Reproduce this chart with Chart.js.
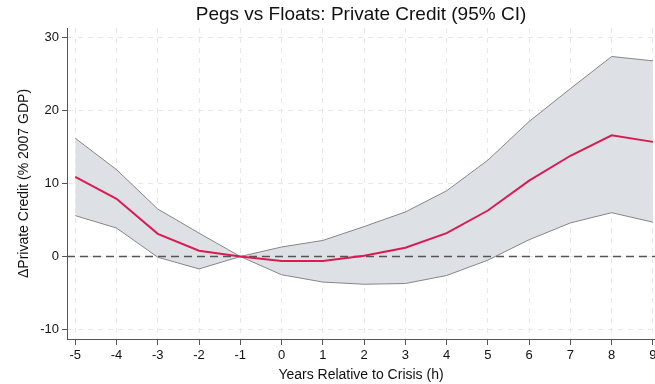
<!DOCTYPE html>
<html>
<head>
<meta charset="utf-8">
<script src="https://cdn.jsdelivr.net/npm/chart.js@4"></script>
<style>
  html, body { margin: 0; padding: 0; background: #fff; }
  #wrap { width: 655px; height: 384px; }
</style>
</head>
<body>
<div id="wrap"><canvas id="myChart" width="655" height="384"></canvas></div>
<script>
// horizon (years relative to crisis)
const years = [-5, -4, -3, -2, -1, 0, 1, 2, 3, 4, 5, 6, 7, 8, 9];
// point estimate and 95% CI bounds
const estimate = [10.9, 7.9, 3.1, 0.8, 0, -0.6, -0.6, 0.1, 1.2, 3.2, 6.3, 10.4, 13.8, 16.6, 15.7];
const upper = [16.2, 11.9, 6.5, 3.2, 0, 1.3, 2.2, 4.1, 6.1, 9.0, 13.2, 18.5, 23.0, 27.4, 26.8];
const lower = [5.6, 3.9, -0.1, -1.7, 0, -2.5, -3.5, -3.8, -3.7, -2.6, -0.5, 2.3, 4.6, 6.0, 4.7];

const xTicks = years;
const yTicks = [-10, 0, 10, 20, 30];

const titleText = "Pegs vs Floats: Private Credit (95% CI)";
const xTitle = "Years Relative to Crisis (h)";
const yTitle = "\u0394Private Credit (% 2007 GDP)";

const toPoints = (vals) => years.map((x, i) => ({ x: x, y: vals[i] }));

const fontFamily = "'Liberation Sans', Arial, Helvetica, sans-serif";

// zero reference line + title drawn on the canvas
const extras = {
    id: "extras",
    beforeDatasetsDraw(chart) {
        const { ctx, chartArea, scales } = chart;
        const y0 = scales.y.getPixelForValue(0);
        ctx.save();
        ctx.strokeStyle = "#555555";
        ctx.lineWidth = 1.5;
        ctx.setLineDash([8, 5]);
        ctx.beginPath();
        ctx.moveTo(chartArea.left, y0);
        ctx.lineTo(chartArea.right, y0);
        ctx.stroke();
        ctx.restore();
    },
    afterDraw(chart) {
        const { ctx, chartArea } = chart;
        ctx.save();
        ctx.fillStyle = "#111";
        ctx.font = "19px " + fontFamily;
        ctx.textAlign = "center";
        ctx.textBaseline = "middle";
        ctx.fillText(titleText, (chartArea.left + chartArea.right) / 2, 15);
        ctx.restore();
    },
};

const ctx = document.getElementById("myChart");

const chart = new Chart(ctx, {
    type: "line",
    data: {
        datasets: [
            {
                label: "Estimate",
                data: toPoints(estimate),
                borderColor: "#d81b50",
                borderWidth: 2,
                pointRadius: 0,
                fill: false,
            },
            {
                label: "Upper",
                data: toPoints(upper),
                borderColor: "#858585",
                borderWidth: 1,
                backgroundColor: "#dde1e6",
                pointRadius: 0,
                fill: "+1",
            },
            {
                label: "Lower",
                data: toPoints(lower),
                borderColor: "#858585",
                borderWidth: 1,
                pointRadius: 0,
                fill: false,
            },
        ],
    },
    options: {
        responsive: false,
        animation: false,
        layout: {
            padding: { top: 28, right: 0, left: 0, bottom: 0 },
        },
        plugins: {
            legend: { display: false },
            tooltip: { enabled: false },
            title: { display: false },
            filler: { drawTime: "beforeDatasetsDraw" },
        },
        scales: {
            x: {
                type: "linear",
                min: -5.2,
                max: 9.05,
                afterBuildTicks: (scale) => {
                    scale.ticks = xTicks.map((v) => ({ value: v }));
                },
                afterFit: (scale) => {
                    scale.height = 45;
                    scale.paddingLeft = 0;
                    scale.paddingRight = 0;
                },
                grid: {
                    color: "#e8e8e8",
                    tickColor: "#555",
                    tickLength: 6,
                    lineWidth: 1,
                },
                border: { color: "#555", width: 1, dash: [5, 5] },
                ticks: {
                    color: "#111",
                    padding: 3,
                    maxRotation: 0,
                    font: { size: 13, family: fontFamily },
                },
                title: {
                    display: true,
                    text: xTitle,
                    color: "#111",
                    font: { size: 14, family: fontFamily },
                    padding: { top: 0, bottom: 0 },
                },
            },
            y: {
                min: -11.3,
                max: 31.3,
                afterBuildTicks: (scale) => {
                    scale.ticks = yTicks.map((v) => ({ value: v }));
                },
                afterFit: (scale) => {
                    scale.width = 67;
                },
                grid: {
                    color: "#e8e8e8",
                    tickColor: "#555",
                    tickLength: 5,
                    lineWidth: 1,
                },
                border: { color: "#555", width: 1, dash: [5, 5] },
                ticks: {
                    color: "#111",
                    padding: 3,
                    font: { size: 13, family: fontFamily },
                },
                title: {
                    display: true,
                    text: yTitle,
                    color: "#111",
                    font: { size: 14, family: fontFamily },
                    padding: { top: 16, bottom: 0 },
                },
            },
        },
    },
    plugins: [extras],
});
</script>
</body>
</html>
